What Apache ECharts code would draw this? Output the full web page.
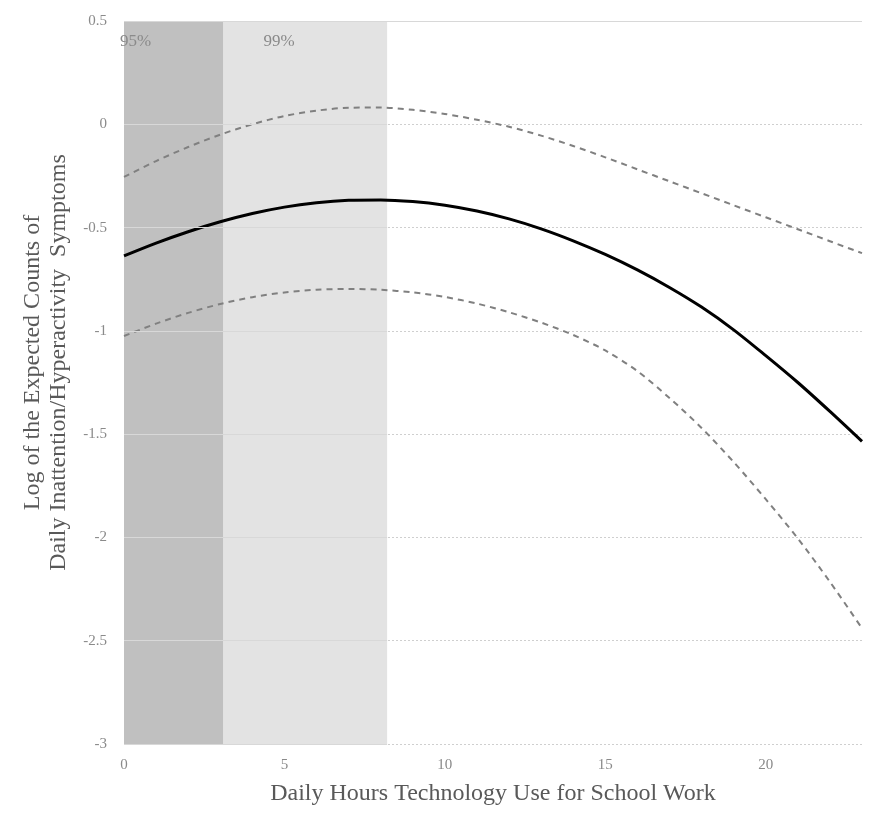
<!DOCTYPE html>
<html>
<head>
<meta charset="utf-8">
<script src="https://cdn.jsdelivr.net/npm/echarts@6/dist/echarts.min.js"></script>
<style>
html,body{margin:0;padding:0;background:#fff;}
#chart{width:876px;height:817px;}
</style>
</head>
<body>
<div id="chart"></div>
<script>
// ---- data ----
const hours = [0,1,2,3,4,5,6,7,8,9,10,11,12,13,14,15,16,17,18,19,20,21,22,23];
const estimate = [-0.637,-0.575,-0.52,-0.472,-0.432,-0.401,-0.38,-0.368,-0.366,-0.374,-0.392,-0.42,-0.458,-0.506,-0.564,-0.63,-0.705,-0.79,-0.885,-0.995,-1.12,-1.25,-1.39,-1.535];
const upper = [-0.255,-0.178,-0.11,-0.05,0.0,0.04,0.066,0.08,0.081,0.07,0.05,0.022,-0.012,-0.055,-0.105,-0.16,-0.218,-0.276,-0.334,-0.392,-0.45,-0.508,-0.566,-0.624];
const lower = [-1.025,-0.965,-0.913,-0.87,-0.837,-0.814,-0.801,-0.797,-0.801,-0.814,-0.836,-0.868,-0.91,-0.96,-1.02,-1.095,-1.195,-1.325,-1.47,-1.635,-1.815,-2.005,-2.215,-2.44];
const yTicks = [0.5,0,-0.5,-1,-1.5,-2,-2.5,-3];
const xTicks = [0,5,10,15,20];
const bandLabels = ['95%','99%'];
const bandStarts = [0,3.1];
const bandEnds = [3.1,8.2];
const xTitle = 'Daily Hours Technology Use for School Work';
const yTitle = 'Log of the Expected Counts of\nDaily Inattention/Hyperactivity  Symptoms';

const pairs = arr => hours.map((h,i)=>[h,arr[i]]);
const serif = '"Liberation Serif","DejaVu Serif",serif';
const bandColors = ['#c0c0c0','#e3e3e3'];
const bandLabelPos = [[-4,12],[40,12]];

const chart = echarts.init(document.getElementById('chart'), null, {renderer:'canvas'});
chart.setOption({
  animation:false,
  backgroundColor:'#fff',
  grid:{left:124,right:14,top:21,bottom:73},
  xAxis:{
    type:'value', min:0, max:23, interval:5,
    name:xTitle, nameLocation:'middle', nameGap:38,
    nameTextStyle:{fontFamily:serif,fontSize:24,color:'#595959'},
    axisLine:{show:false}, axisTick:{show:false}, splitLine:{show:false},
    axisLabel:{fontFamily:serif,fontSize:15,color:'#8a8a8a',margin:14,showMaxLabel:false,
      formatter:v=> xTicks.indexOf(v)>=0 ? String(v) : ''}
  },
  yAxis:{
    type:'value', min:-3, max:0.5, interval:0.5,
    name:yTitle, nameLocation:'middle', nameGap:52, nameRotate:90,
    nameTextStyle:{fontFamily:serif,fontSize:24,color:'#595959',lineHeight:26,padding:[0,0,0,40]},
    axisLine:{show:false}, axisTick:{show:false},
    axisLabel:{fontFamily:serif,fontSize:15,color:'#8a8a8a',margin:17},
    splitLine:{show:true,lineStyle:{color:'#cfcfcf',type:[2,2],width:1}}
  },
  series:[
    {
      name:'bands', type:'line', data:[], z:1, silent:true,
      markArea:{
        silent:true,
        data: bandLabels.map((lab,i)=>[
          {xAxis:bandStarts[i], yAxis:0.5, name:lab,
           itemStyle:{color:bandColors[i]},
           label:{show:true,position:bandLabelPos[i],
             fontFamily:serif,fontSize:17,color:'#8a8a8a'}},
          {xAxis:bandEnds[i], yAxis:-3}
        ])
      }
    },
    {
      name:'gridOverlay', type:'line', data:[], z:2, silent:true,
      markLine:{
        silent:true, symbol:'none', label:{show:false},
        data: yTicks.map(v=>[
          {coord:[bandStarts[0],v]},
          {coord:[bandEnds[bandEnds.length-1],v]}
        ]).concat([[{coord:[0,yTicks[0]]},{coord:[23,yTicks[0]]}]]),
        lineStyle:{color:'#d8d8d8',type:'solid',width:1}
      }
    },
    {
      name:'upper', type:'line', data:pairs(upper), smooth:0.3, showSymbol:false, z:3,
      lineStyle:{color:'#808080',width:2,type:[6,5]}
    },
    {
      name:'lower', type:'line', data:pairs(lower), smooth:0.3, showSymbol:false, z:3,
      lineStyle:{color:'#808080',width:2,type:[6,5]}
    },
    {
      name:'estimate', type:'line', data:pairs(estimate), smooth:0.3, showSymbol:false, z:4,
      lineStyle:{color:'#000',width:3}
    }
  ]
});
</script>
</body>
</html>
